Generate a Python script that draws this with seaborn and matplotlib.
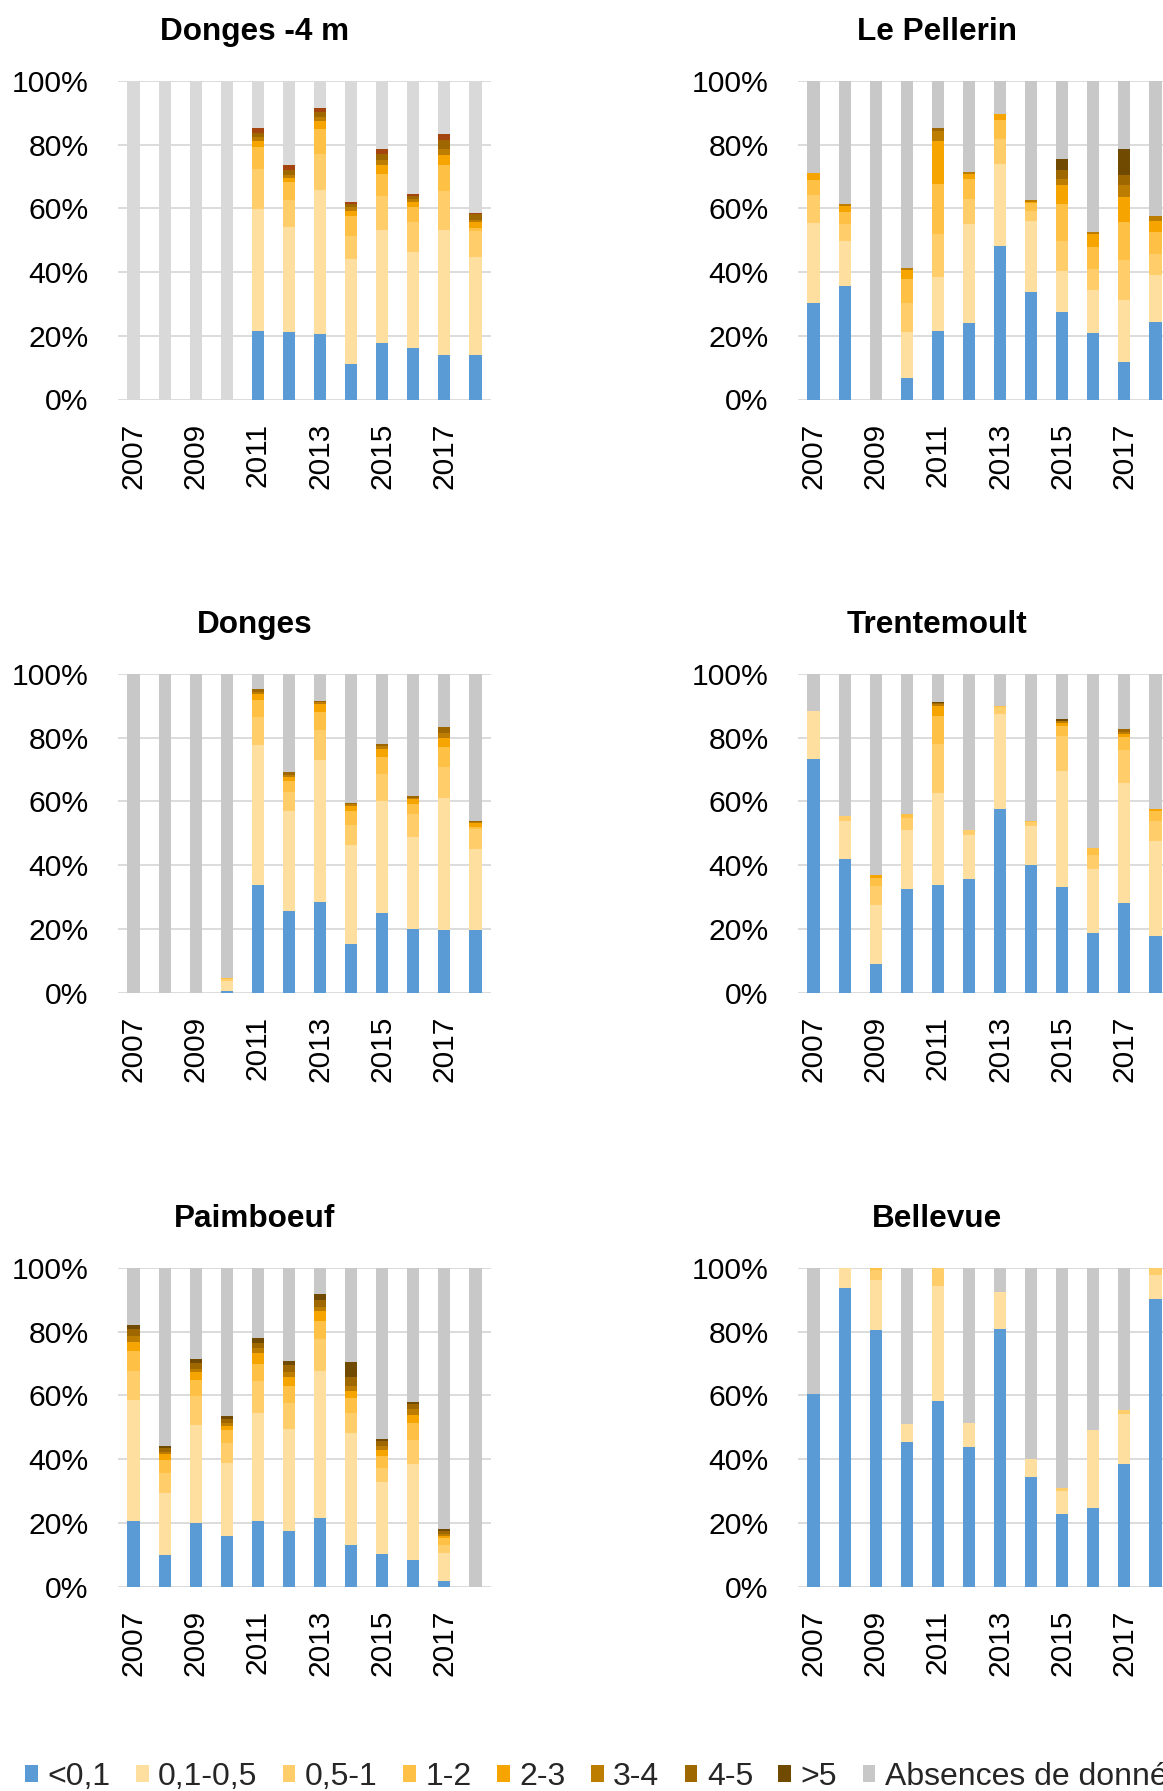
import numpy as np
import matplotlib
matplotlib.use('Agg')
import matplotlib.pyplot as plt
import seaborn as sns
from matplotlib.patches import Patch

# years on the x axis, only every other one gets a label
years = [2007, 2008, 2009, 2010, 2011, 2012, 2013, 2014, 2015, 2016, 2017, 2018]
year_labels = ['2007', '', '2009', '', '2011', '', '2013', '', '2015', '', '2017', '']

classes = ['<0,1', '0,1-0,5', '0,5-1', '1-2', '2-3', '3-4', '4-5', '>5']
missing_label = 'Absences de données'

# share (%) of each class per year, one row per year (2007 -> 2018)
# the remainder up to 100% is "Absences de données"
donges_4m = [
    [0, 0, 0, 0, 0, 0, 0, 0],
    [0, 0, 0, 0, 0, 0, 0, 0],
    [0, 0, 0, 0, 0, 0, 0, 0],
    [0, 0, 0, 0, 0, 0, 0, 0],
    [21.5, 38.3, 12.6, 7.0, 1.9, 1.0, 1.3, 1.5],
    [21.3, 33.0, 8.3, 5.7, 1.3, 0.9, 1.6, 1.4],
    [20.5, 45.3, 11.3, 7.8, 2.5, 1.4, 1.6, 1.0],
    [11.1, 33.0, 7.2, 6.3, 1.7, 1.2, 0.9, 0.7],
    [17.6, 35.6, 10.7, 6.9, 2.8, 1.6, 1.8, 1.6],
    [16.3, 29.9, 9.5, 4.7, 1.6, 0.9, 1.0, 0.6],
    [13.9, 39.3, 12.4, 8.0, 3.2, 1.8, 2.9, 1.9],
    [14.0, 30.7, 8.3, 0.8, 1.9, 0.8, 1.7, 0.3],
]

le_pellerin = [
    [30.2, 25.2, 8.8, 4.7, 2.1, 0, 0, 0],
    [35.5, 14.2, 5.5, 3.6, 2.0, 0.5, 0, 0],
    [0, 0, 0, 0, 0, 0, 0, 0],
    [6.9, 14.3, 9.2, 7.4, 2.9, 0.7, 0, 0],
    [21.5, 17.1, 13.4, 15.6, 13.6, 3.0, 1.2, 0],
    [23.9, 31.2, 7.8, 6.3, 1.6, 0.5, 0, 0],
    [48.2, 25.7, 7.9, 5.9, 1.9, 0, 0, 0],
    [33.8, 22.2, 3.3, 2.3, 0.5, 0.5, 0, 0],
    [27.6, 12.7, 9.5, 11.6, 5.9, 1.9, 2.9, 3.5],
    [20.8, 13.6, 6.6, 7.0, 4.0, 0.5, 0, 0],
    [11.9, 19.3, 12.6, 11.9, 8.0, 3.6, 3.2, 8.2],
    [24.3, 14.7, 6.7, 7.0, 3.3, 1.6, 0, 0],
]

donges = [
    [0, 0, 0, 0, 0, 0, 0, 0],
    [0, 0, 0, 0, 0, 0, 0, 0],
    [0, 0, 0, 0, 0, 0, 0, 0],
    [0.5, 3.2, 0.6, 0.3, 0, 0, 0, 0],
    [33.6, 44.0, 8.9, 5.3, 1.9, 0.6, 0.9, 0],
    [25.5, 31.4, 6.0, 3.4, 1.3, 0.8, 0.8, 0],
    [28.5, 44.4, 9.5, 5.8, 2.4, 0.5, 0.4, 0],
    [15.1, 31.1, 6.3, 4.4, 1.8, 0.4, 0.3, 0],
    [25.0, 35.2, 8.3, 5.4, 2.7, 0.7, 0.7, 0],
    [20.0, 28.7, 7.2, 3.2, 1.6, 0.5, 0.4, 0],
    [19.7, 41.4, 9.6, 6.3, 3.0, 1.6, 1.8, 0],
    [19.7, 25.2, 6.3, 0.8, 1.1, 0.5, 0.4, 0],
]

trentemoult = [
    [73.3, 15.2, 0, 0, 0, 0, 0, 0],
    [41.8, 12.1, 1.6, 0, 0, 0, 0, 0],
    [9.1, 18.4, 6.0, 2.5, 0.8, 0, 0, 0],
    [32.5, 18.5, 3.8, 1.3, 0, 0, 0, 0],
    [33.7, 28.8, 15.4, 8.8, 3.1, 0.8, 0.2, 0.5],
    [35.7, 13.7, 1.5, 0, 0, 0, 0, 0],
    [57.5, 29.9, 2.2, 0.2, 0, 0, 0, 0],
    [40.0, 12.3, 1.2, 0.3, 0, 0, 0, 0],
    [33.1, 36.4, 10.9, 3.4, 0.9, 0.4, 0.3, 0.5],
    [18.6, 20.1, 4.4, 2.3, 0, 0, 0, 0],
    [28.1, 37.6, 10.3, 4.1, 1.1, 0.7, 0.8, 0],
    [17.7, 29.8, 6.2, 3.2, 0.8, 0, 0, 0],
]

paimboeuf = [
    [20.6, 38.1, 9.1, 6.0, 3.1, 1.9, 2.1, 1.3],
    [9.9, 19.6, 6.2, 4.1, 1.7, 0.8, 1.1, 0.7],
    [20.0, 30.8, 8.9, 5.0, 2.6, 1.1, 1.7, 1.2],
    [15.9, 22.8, 6.4, 3.9, 1.5, 0.9, 1.1, 0.9],
    [20.6, 34.0, 9.8, 5.6, 3.4, 1.6, 1.5, 1.6],
    [17.4, 32.2, 7.9, 5.3, 3.1, 1.6, 2.2, 1.2],
    [21.4, 46.4, 9.8, 5.9, 2.9, 1.5, 2.1, 1.7],
    [13.0, 35.1, 6.3, 4.7, 2.4, 1.6, 2.6, 4.9],
    [10.1, 22.8, 4.4, 3.8, 1.9, 1.2, 1.4, 0.7],
    [8.4, 30.2, 7.5, 5.1, 2.5, 1.9, 1.7, 0.5],
    [1.8, 8.8, 2.5, 2.0, 0.6, 0.8, 0.8, 0.6],
    [0, 0, 0, 0, 0, 0, 0, 0],
]

bellevue = [
    [60.5, 0, 0, 0, 0, 0, 0, 0],
    [93.7, 6.3, 0, 0, 0, 0, 0, 0],
    [80.6, 15.5, 3.2, 0.7, 0, 0, 0, 0],
    [45.4, 5.5, 0, 0, 0, 0, 0, 0],
    [58.1, 36.4, 5.5, 0, 0, 0, 0, 0],
    [43.8, 7.4, 0, 0, 0, 0, 0, 0],
    [80.7, 11.7, 0, 0, 0, 0, 0, 0],
    [34.3, 5.7, 0, 0, 0, 0, 0, 0],
    [22.8, 7.2, 0.8, 0, 0, 0, 0, 0],
    [24.6, 24.5, 0, 0, 0, 0, 0, 0],
    [38.4, 15.9, 1.2, 0, 0, 0, 0, 0],
    [90.2, 7.5, 2.3, 0, 0, 0, 0, 0],
]

colors = ['#5B9BD5', '#FFDF9F', '#FFCD69', '#FFC145', '#F5A400', '#BD7D00', '#9E6700', '#704A00']
grey = '#C8C8C8'
# first chart was styled a bit differently (lighter grey, reddish >5)
colors_first = ['#5B9BD5', '#FFDF9F', '#FFCD69', '#FFC145', '#F5A400', '#BD7D00', '#9E6700', '#A4450F']
grey_first = '#D9D9D9'

sns.set_theme(style='white')
plt.rcParams['font.family'] = ['Liberation Sans', 'DejaVu Sans']

W, H = 1163, 1791
fig = plt.figure(figsize=(W / 100, H / 100), dpi=100)


def draw(ax, shares, cols, grey_col):
    cum = np.cumsum(np.array(shares, dtype=float), axis=1)
    xl = [str(y) for y in years]
    # stack by overlaying cumulative bars, tallest first
    sns.barplot(x=xl, y=[100] * len(years), color=grey_col, width=0.39,
                saturation=1, errorbar=None, linewidth=0, ax=ax)
    for k in range(len(classes) - 1, -1, -1):
        sns.barplot(x=xl, y=cum[:, k], color=cols[k], width=0.39,
                    saturation=1, errorbar=None, linewidth=0, ax=ax)
    ax.set_xlim(-0.5, 11.5)
    ax.set_ylim(0, 100)
    ax.set_yticks([0, 20, 40, 60, 80, 100])
    ax.set_yticklabels(['0%', '20%', '40%', '60%', '80%', '100%'])
    ax.set_xticks(range(len(years)))
    ax.set_xticklabels(year_labels, rotation=90)
    ax.set_xlabel('')
    ax.set_ylabel('')
    ax.yaxis.grid(True, color='#D9D9D9', linewidth=1.3)
    ax.xaxis.grid(False)
    ax.set_axisbelow(True)
    for s in ax.spines.values():
        s.set_visible(False)
    ax.tick_params(axis='y', length=0, pad=21, labelsize=21.7, labelcolor='black')
    ax.tick_params(axis='x', length=0, pad=17, labelsize=21.5, labelcolor='black')


panels = [
    ('Donges -4 m', donges_4m, 0, 0),
    ('Le Pellerin', le_pellerin, 1, 0),
    ('Donges', donges, 0, 1),
    ('Trentemoult', trentemoult, 1, 1),
    ('Paimboeuf', paimboeuf, 0, 2),
    ('Bellevue', bellevue, 1, 2),
]

lefts = [118, 798]
tops = [81, 674, 1268]
aw, ah = 373, 318.5
title_x = [255, 937]

for name, data, col, row in panels:
    ax = fig.add_axes([lefts[col] / W, 1 - (tops[row] + ah) / H, aw / W, ah / H])
    if name == 'Donges -4 m':
        draw(ax, data, colors_first, grey_first)
    else:
        draw(ax, data, colors, grey)
    fig.text(title_x[col] / W, 1 - (tops[row] - 41) / H, name, ha='center',
             va='baseline', fontsize=22.7, fontweight='bold', color='black')

handles = [Patch(facecolor=c, edgecolor='none') for c in colors] + [Patch(facecolor=grey, edgecolor='none')]
fig.legend(handles, classes + [missing_label], loc='center left',
           bbox_to_anchor=(25 / W, 1 - 1777 / H), ncol=9, frameon=False,
           fontsize=23, handlelength=0.4, handleheight=0.44, handletextpad=0.3,
           columnspacing=0.79, borderpad=0, borderaxespad=0)

fig.savefig('out.png', dpi=100)
